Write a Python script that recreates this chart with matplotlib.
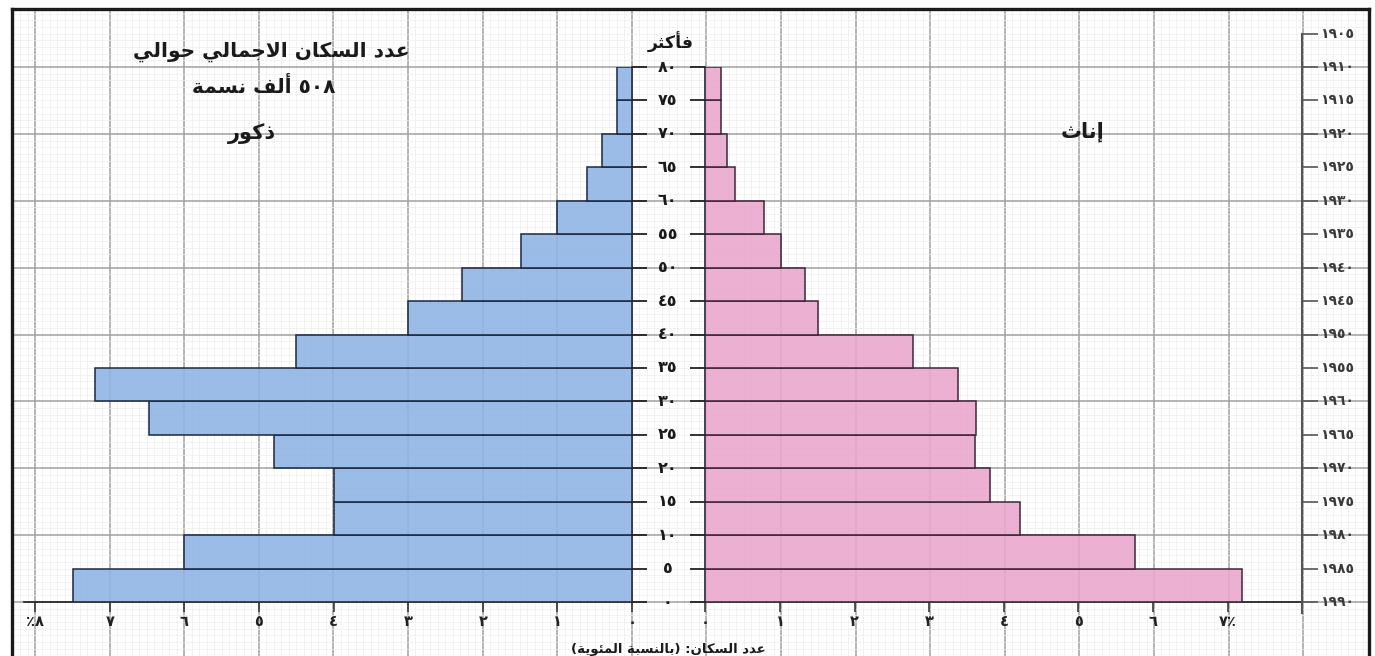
import re
import matplotlib
matplotlib.use("Agg")
import matplotlib.pyplot as plt
from matplotlib.ticker import MultipleLocator, FixedLocator
from matplotlib.colors import to_rgba

# ---------------- data ----------------
age_starts = [0, 5, 10, 15, 20, 25, 30, 35, 40, 45, 50, 55, 60, 65, 70, 75]
male_pct = [7.5, 6.0, 4.0, 4.0, 4.8, 6.47, 7.2, 4.5, 3.0, 2.28, 1.49, 1.0, 0.6, 0.4, 0.2, 0.2]
female_pct = [7.19, 5.76, 4.22, 3.81, 3.61, 3.63, 3.39, 2.78, 1.51, 1.33, 1.01, 0.79, 0.40, 0.29, 0.21, 0.21]
age_ticks = [0, 5, 10, 15, 20, 25, 30, 35, 40, 45, 50, 55, 60, 65, 70, 75, 80]
years = [1905, 1910, 1915, 1920, 1925, 1930, 1935, 1940, 1945,
         1950, 1955, 1960, 1965, 1970, 1975, 1980, 1985, 1990]
census_year = 1990
male_xticks = [0, 1, 2, 3, 4, 5, 6, 7, 8]
female_xticks = [0, 1, 2, 3, 4, 5, 6, 7]

title_1 = "عدد السكان الاجمالي حوالي"
title_2 = "٥٠٨ ألف نسمة"
male_label = "ذكور"
female_label = "إناث"
top_age_label = "فأكثر"
x_title = "عدد السكان: (بالنسبة المئوية)"

# ---------------- Arabic shaping helpers ----------------
DUAL = {0x626: 0xFE89, 0x628: 0xFE8F, 0x62A: 0xFE95, 0x62B: 0xFE99, 0x62C: 0xFE9D,
        0x62D: 0xFEA1, 0x62E: 0xFEA5, 0x633: 0xFEB1, 0x634: 0xFEB5, 0x635: 0xFEB9,
        0x636: 0xFEBD, 0x637: 0xFEC1, 0x638: 0xFEC5, 0x639: 0xFEC9, 0x63A: 0xFECD,
        0x641: 0xFED1, 0x642: 0xFED5, 0x643: 0xFED9, 0x644: 0xFEDD, 0x645: 0xFEE1,
        0x646: 0xFEE5, 0x647: 0xFEE9, 0x64A: 0xFEF1}
RIGHT = {0x622: 0xFE81, 0x623: 0xFE83, 0x624: 0xFE85, 0x625: 0xFE87, 0x627: 0xFE8D,
         0x629: 0xFE93, 0x62F: 0xFEA9, 0x630: 0xFEAB, 0x631: 0xFEAD, 0x632: 0xFEAF,
         0x648: 0xFEED, 0x649: 0xFEEF}
LAMALEF = {0x622: 0xFEF5, 0x623: 0xFEF7, 0x625: 0xFEF9, 0x627: 0xFEFB}
DIGITS = "0123456789\u0660\u0661\u0662\u0663\u0664\u0665\u0666\u0667\u0668\u0669"


def shape(s):
    items = []
    i = 0
    while i < len(s):
        c = s[i]
        if ord(c) == 0x644 and i + 1 < len(s) and ord(s[i + 1]) in LAMALEF:
            items.append(("LA", LAMALEF[ord(s[i + 1])]))
            i += 2
        else:
            items.append(("C", c))
            i += 1

    def joins_next(it):
        return it[0] == "C" and ord(it[1]) in DUAL

    def joins_prev(it):
        return it[0] == "LA" or ord(it[1]) in DUAL or ord(it[1]) in RIGHT

    out = []
    for k, it in enumerate(items):
        prev = items[k - 1] if k > 0 else None
        nxt = items[k + 1] if k + 1 < len(items) else None
        cp = prev is not None and joins_next(prev) and joins_prev(it)
        cn = nxt is not None and joins_next(it) and joins_prev(nxt)
        if it[0] == "LA":
            out.append(chr(it[1] + (1 if cp else 0)))
            continue
        o = ord(it[1])
        if o in DUAL:
            off = 3 if (cp and cn) else 1 if cp else 2 if cn else 0
            out.append(chr(DUAL[o] + off))
        elif o in RIGHT:
            out.append(chr(RIGHT[o] + (1 if cp else 0)))
        else:
            out.append(it[1])
    return "".join(out)


MIRROR = str.maketrans("()", ")(")


def ar(s):
    sh = shape(s)
    runs = re.findall("[%s]+|[^%s]+" % (DIGITS, DIGITS), sh)
    vis = []
    for r in reversed(runs):
        if r[0] in DIGITS:
            vis.append(r)
        else:
            vis.append(r[::-1].translate(MIRROR))
    return "".join(vis)


EAST = str.maketrans("0123456789", "٠١٢٣٤٥٦٧٨٩")


def ad(n):
    return str(n).translate(EAST)


# ---------------- layout constants (pixels) ----------------
W, H = 1375, 656
UNIT = 74.6          # px per 1 %
M0 = 632.0           # male zero line
F0 = 705.5           # female zero line
BASE = 602.0         # age 0
TOP = 67.0           # age 80
AGE_PX = (BASE - TOP) / 80.0
FRAME_L, FRAME_R, FRAME_T = 12.0, 1369.0, 9.0

FONT = "DejaVu Sans"
DARK = "#2b2b2b"
plt.rcParams["font.family"] = FONT

fig = plt.figure(figsize=(W / 100, H / 100), dpi=100)
fig.patch.set_facecolor("white")

# ---------------- graph-paper background ----------------
bg_bottom_px = H + 40
bg = fig.add_axes([FRAME_L / W, (H - bg_bottom_px) / H,
                   (FRAME_R - FRAME_L) / W, (bg_bottom_px - FRAME_T) / H], zorder=0)
bg.set_xlim((FRAME_L - 35.0) / UNIT, (FRAME_R - 35.0) / UNIT)
bg.set_ylim((BASE - bg_bottom_px) / (AGE_PX * 10), (BASE - FRAME_T) / (AGE_PX * 10))
bg.xaxis.set_major_locator(MultipleLocator(1))
bg.xaxis.set_minor_locator(MultipleLocator(0.1))
bg.yaxis.set_major_locator(MultipleLocator(1))
bg.yaxis.set_minor_locator(MultipleLocator(0.1))
bg.grid(which="minor", color="#ededed", lw=0.5)
bg.grid(which="major", color="#a0a0a0", lw=1.1)
bg.tick_params(which="both", length=0, labelleft=False, labelbottom=False)
for side in ("left", "top", "right"):
    bg.spines[side].set_linewidth(2.4)
    bg.spines[side].set_color("#1a1a1a")
bg.spines["bottom"].set_visible(False)
bg.set_axisbelow(True)

# ---------------- male axes ----------------
m_left = M0 - 8.15 * UNIT
axm = fig.add_axes([m_left / W, (H - BASE) / H, (M0 - m_left) / W, (BASE - TOP) / H], zorder=2)
axm.patch.set_alpha(0)
axm.set_xlim(8.15, 0)
axm.set_ylim(0, 80)
axm.barh(age_starts, male_pct, height=5, align="edge",
         color=to_rgba("#8cb3e3", 0.88), edgecolor="#1d2840", lw=1.1, zorder=3)

# ---------------- female axes ----------------
axf = fig.add_axes([F0 / W, (H - BASE) / H, 8 * UNIT / W, (BASE - TOP) / H], zorder=2)
axf.patch.set_alpha(0)
axf.set_xlim(0, 8)
axf.set_ylim(0, 80)
axf.barh(age_starts, female_pct, height=5, align="edge",
         color=to_rgba("#e9a5cc", 0.88), edgecolor="#3d2636", lw=1.1, zorder=3)

for ax, ticks, labels, zero_side in (
        (axm, male_xticks, [ad(t) for t in male_xticks[:-1]] + ["٪" + ad(male_xticks[-1])], "right"),
        (axf, female_xticks, [ad(t) for t in female_xticks[:-1]] + [ad(female_xticks[-1]) + "٪"], "left")):
    for s in ax.spines.values():
        s.set_visible(False)
    ax.spines["bottom"].set_visible(True)
    ax.spines["bottom"].set_color(DARK)
    ax.spines["bottom"].set_linewidth(1.3)
    ax.spines[zero_side].set_visible(True)
    ax.spines[zero_side].set_color("#1f2433")
    ax.spines[zero_side].set_linewidth(1.2)
    ax.xaxis.set_major_locator(FixedLocator(ticks))
    ax.set_xticklabels(labels, fontsize=10.5, fontweight="bold", color="#222")
    ax.tick_params(axis="x", direction="out", length=7, width=1.1, color=DARK, pad=2)
    ax.set_yticks([])

# ---------------- central age labels ----------------
axf.hlines(age_ticks, -(F0 - M0) / UNIT, -(F0 - 647) / UNIT, color="#222", lw=1.3, clip_on=False, zorder=4)
axf.hlines(age_ticks, -(F0 - 690) / UNIT, 0, color="#222", lw=1.3, clip_on=False, zorder=4)
for a in age_ticks:
    axf.text(-(F0 - 667.5) / UNIT, a, ad(a), ha="center", va="center", fontsize=11.5,
             fontweight="bold", color="#1a1a1a", clip_on=False)
axf.text(-(F0 - 671) / UNIT, age_ticks[-1] + 3.7, ar(top_age_label), ha="center", va="center",
         fontsize=12.5, fontweight="bold", color="#1a1a1a", clip_on=False)

# ---------------- year axis on the right ----------------
year_ages = [census_year - y for y in years]
axf.plot([8, 8], [-1.7, max(year_ages)], color="#555", lw=1.5, clip_on=False, zorder=4)
axf.hlines(year_ages, 8, 8 + 16 / UNIT, color="#555", lw=1.2, clip_on=False, zorder=4)
for ya, y in zip(year_ages, years):
    axf.text(8 + 18 / UNIT, ya, ad(y), ha="left", va="center", fontsize=10,
             fontweight="bold", color="#3a3a3a", clip_on=False)

# ---------------- texts ----------------
def ftxt(x, y, s, size):
    fig.text(x / W, 1 - y / H, s, ha="center", va="center", fontsize=size,
             fontweight="bold", color="#1a1a1a", zorder=5)

ftxt(271, 52, ar(title_1), 14.5)
ftxt(264, 87, ar(title_2), 14.5)
ftxt(252, 134, ar(male_label), 15)
ftxt(1082, 132, ar(female_label), 15)
ftxt(668, 650, ar(x_title), 9.5)

fig.savefig("out.png", dpi=100, facecolor="white")
